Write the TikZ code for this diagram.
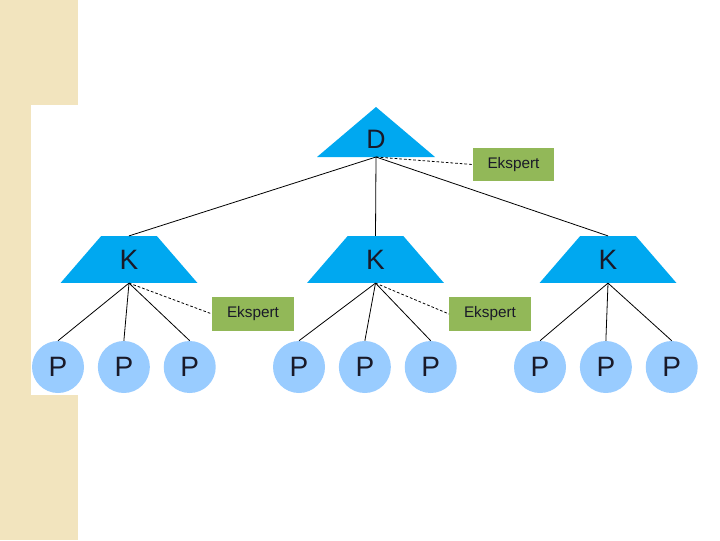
\documentclass[tikz,border=0pt]{standalone}
\usepackage{fontspec}
\setmainfont{Liberation Sans}
\usepackage{tikz}
\usetikzlibrary{positioning,shapes.geometric}

\definecolor{stripbeige}{RGB}{242,228,190}
\definecolor{nodeblue}{RGB}{0,168,240}
\definecolor{leafblue}{RGB}{153,204,255}
\definecolor{expertgreen}{RGB}{146,184,88}
\definecolor{ink}{RGB}{25,25,40}

\tikzset{
  kbox/.style={trapezium, trapezium stretches=true, trapezium left angle=55, trapezium right angle=55,
    minimum width=102.5pt, minimum height=35pt, inner sep=0pt, fill=nodeblue, text=ink,
    font=\fontsize{21}{21}\selectfont},
  leaf/.style={circle, minimum size=39pt, inner sep=0pt, fill=leafblue, text=ink,
    font=\fontsize{21}{21}\selectfont},
  expert/.style={rectangle, minimum width=61pt, minimum height=25pt, inner sep=0pt, fill=expertgreen, text=ink,
    font=\fontsize{11.5}{12}\selectfont},
  link/.style={draw=black, line width=0.6pt},
  advice/.style={draw=black, line width=0.6pt, dash pattern=on 2pt off 1.5pt}
}

\begin{document}
\begin{tikzpicture}[x=0.75pt, y=-0.75pt, node distance=10pt]
\useasboundingbox (0,0) rectangle (720,540);
\fill[stripbeige] (0,0) rectangle (78,540);
\fill[white] (31,105) rectangle (700,395);

% top of the tree
\fill[nodeblue] (317,157) -- (376,107) -- (435,157) -- cycle;
\node (D) [text=ink, font=\fontsize{20}{20}\selectfont] at (376,139.5) {D};
\coordinate (Dbase) at (376,157);
\node (E0) [expert] at (513.5,164.5) {Ekspert};

% middle level
\node (K1) [kbox] at (129,259.5) {K};
\node (K2) [kbox] at (375.5,259.5) {K};
\node (K3) [kbox] at (608,259.5) {K};
\node (E1) [expert] at (253,314) {Ekspert};
\node (E2) [expert] at (490,314) {Ekspert};

% leaves
\node (P11) [leaf] at (58,367) {P};
\node (P12) [leaf, right=of P11] {P};
\node (P13) [leaf, right=of P12] {P};
\node (P21) [leaf] at (299,367) {P};
\node (P22) [leaf, right=of P21] {P};
\node (P23) [leaf, right=of P22] {P};
\node (P31) [leaf] at (540,367) {P};
\node (P32) [leaf, right=of P31] {P};
\node (P33) [leaf, right=of P32] {P};

\draw [link] (Dbase) -- (K1.north);
\draw [link] (Dbase) -- (K2.north);
\draw [link] (Dbase) -- (K3.north);
\draw [advice] (Dbase) -- (E0.west);

\foreach \k in {1,2,3} {
  \foreach \p in {1,2,3}
    \draw [link] (K\k.south) -- (P\k\p.north);
}
\draw [advice] (K1.south) -- (E1.west);
\draw [advice] (K2.south) -- (E2.west);
\end{tikzpicture}
\end{document}
